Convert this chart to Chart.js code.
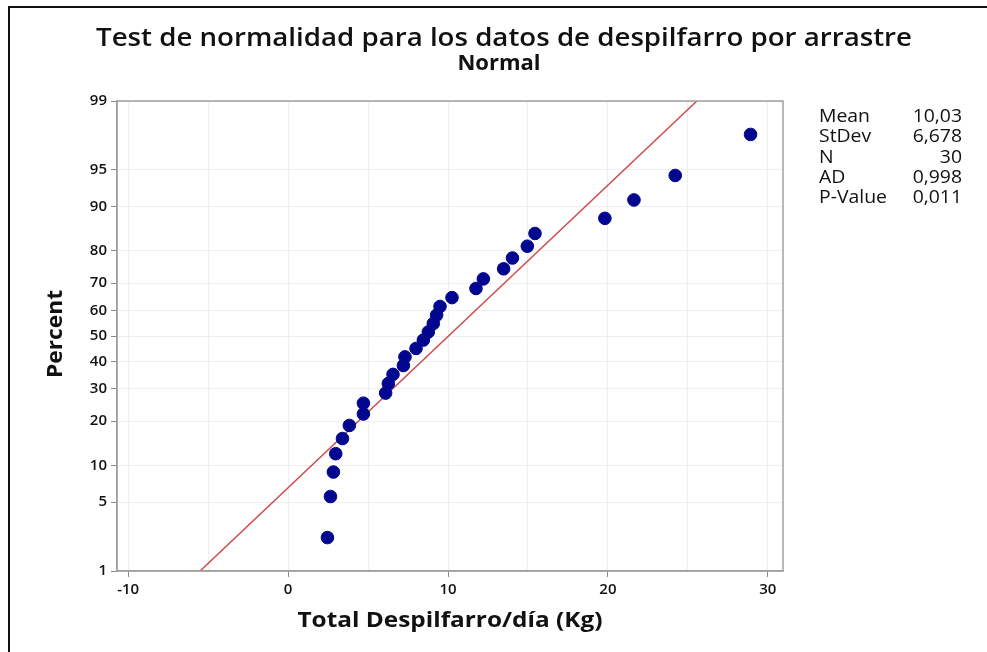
<!DOCTYPE html>
<html lang="es">
<head>
    <meta charset="UTF-8">
    <title>Test de normalidad</title>
    <script src="https://cdn.jsdelivr.net/npm/chart.js"></script>
    <style>
        html, body { margin: 0; padding: 0; background: #fff; }
        .frame { position: absolute; left: 8px; top: 6px; right: 0; bottom: 0;
                 border-top: 2px solid #111; border-left: 2px solid #111; }
        #wrap { position: absolute; left: 0; top: 0; width: 987px; height: 652px; }
    </style>
</head>
<body>
<div class="frame"></div>
<div id="wrap"><canvas id="probPlot" width="987" height="652"></canvas></div>
<script>
    // data
    const wasteKg = [2.46, 2.65, 2.83, 2.98, 3.40, 3.83, 4.71, 4.71, 6.10, 6.27,
                     6.56, 7.21, 7.31, 8.00, 8.46, 8.77, 9.08, 9.29, 9.50, 10.25,
                     11.75, 12.21, 13.48, 14.03, 14.96, 15.44, 19.81, 21.63, 24.21, 28.92];
    const percentRank = [2.3, 5.6, 8.9, 12.2, 15.5, 18.8, 22.0, 25.3, 28.6, 31.9,
                         35.2, 38.5, 41.8, 45.1, 48.4, 51.6, 54.9, 58.2, 61.5, 64.8,
                         68.1, 71.4, 74.7, 78.0, 81.3, 84.5, 87.8, 91.1, 94.4, 97.7];
    const yTickPercents = [1, 5, 10, 20, 30, 40, 50, 60, 70, 80, 90, 95, 99];
    const xTickValues = [-10, -5, 0, 5, 10, 15, 20, 25, 30];
    const statNames = ['Mean', 'StDev', 'N', 'AD', 'P-Value'];
    const statValues = ['10,03', '6,678', '30', '0,998', '0,011'];
    const mean = 10.03, stdev = 6.678;

    // inverse normal cdf (Acklam) - used only to place things on the probability scale
    function probit(p) {
        const a = [-3.969683028665376e+01, 2.209460984245205e+02, -2.759285104469687e+02, 1.383577518672690e+02, -3.066479806614716e+01, 2.506628277459239e+00];
        const b = [-5.447609879822406e+01, 1.615858368580409e+02, -1.556989798598866e+02, 6.680131188771972e+01, -1.328068155288572e+01];
        const c = [-7.784894002430293e-03, -3.223964580411365e-01, -2.400758277161838e+00, -2.549732539343734e+00, 4.374664141464968e+00, 2.938163982698783e+00];
        const d = [7.784695709041462e-03, 3.224671290700398e-01, 2.445134137142996e+00, 3.754408661907416e+00];
        const pl = 0.02425;
        let q, r;
        if (p < pl) {
            q = Math.sqrt(-2 * Math.log(p));
            return (((((c[0]*q+c[1])*q+c[2])*q+c[3])*q+c[4])*q+c[5]) / ((((d[0]*q+d[1])*q+d[2])*q+d[3])*q+1);
        } else if (p <= 1 - pl) {
            q = p - 0.5; r = q * q;
            return (((((a[0]*r+a[1])*r+a[2])*r+a[3])*r+a[4])*r+a[5])*q / (((((b[0]*r+b[1])*r+b[2])*r+b[3])*r+b[4])*r+1);
        }
        q = Math.sqrt(-2 * Math.log(1 - p));
        return -(((((c[0]*q+c[1])*q+c[2])*q+c[3])*q+c[4])*q+c[5]) / ((((d[0]*q+d[1])*q+d[2])*q+d[3])*q+1);
    }

    const zLow = probit(yTickPercents[0] / 100);
    const zHigh = probit(yTickPercents[yTickPercents.length - 1] / 100);

    const points = wasteKg.map((x, i) => ({ x: x, y: probit(percentRank[i] / 100) }));
    const fitLine = [
        { x: mean + stdev * zLow, y: zLow },
        { x: mean + stdev * zHigh, y: zHigh }
    ];

    const FONT = "'Open Sans', 'Noto Sans', sans-serif";

    // draw centred text squeezed/stretched to a given width (y = baseline)
    function fitText(ctx, text, cx, by, font, width) {
        ctx.save();
        ctx.font = font;
        ctx.textBaseline = 'alphabetic';
        ctx.textAlign = 'center';
        const k = width ? width / ctx.measureText(text).width : 1;
        ctx.translate(cx, by);
        ctx.scale(k, 1);
        ctx.fillText(text, 0, 0);
        ctx.restore();
    }

    // titles, stats box and the plot frame
    const decorations = {
        id: 'decorations',
        afterDraw(chart) {
            const ctx = chart.ctx;
            const a = chart.chartArea;
            ctx.save();
            ctx.strokeStyle = '#a0a0a0';
            ctx.lineWidth = 1.5;
            ctx.strokeRect(a.left, a.top, a.right - a.left, a.bottom - a.top);

            ctx.fillStyle = '#111';
            fitText(ctx, 'Test de normalidad para los datos de despilfarro por arrastre', 504, 46, '600 25px ' + FONT, 816);
            fitText(ctx, 'Normal', 499, 70, '700 22px ' + FONT, 0);
            fitText(ctx, 'Total Despilfarro/día (Kg)', 450, 627, '700 21px ' + FONT, 305);

            ctx.save();
            ctx.translate(62, 334);
            ctx.rotate(-Math.PI / 2);
            fitText(ctx, 'Percent', 0, 0, '700 21px ' + FONT, 88);
            ctx.restore();

            // stats: same horizontal stretch for both columns
            ctx.font = '18px ' + FONT;
            ctx.textBaseline = 'middle';
            const k = 51 / ctx.measureText('Mean').width;
            statNames.forEach((name, i) => {
                const y = 117 + i * 20.2;
                ctx.save();
                ctx.translate(819, y);
                ctx.scale(k, 1);
                ctx.textAlign = 'left';
                ctx.fillText(name, 0, 0);
                ctx.restore();
                ctx.save();
                ctx.translate(962, y);
                ctx.scale(k, 1);
                ctx.textAlign = 'right';
                ctx.fillText(statValues[i], 0, 0);
                ctx.restore();
            });
            ctx.restore();
        }
    };

    new Chart(document.getElementById('probPlot'), {
        type: 'scatter',
        data: {
            datasets: [
                {
                    label: 'Fit',
                    type: 'line',
                    data: fitLine,
                    borderColor: '#cf4b4b',
                    borderWidth: 1.5,
                    pointRadius: 0,
                    fill: false,
                    order: 2
                },
                {
                    label: 'Total Despilfarro',
                    data: points,
                    backgroundColor: '#00068f',
                    borderColor: '#00068f',
                    pointRadius: 6.3,
                    pointHoverRadius: 6.3,
                    order: 1
                }
            ]
        },
        options: {
            responsive: false,
            animation: false,
            layout: { padding: { top: 101, right: 204, left: 0, bottom: 0 } },
            plugins: { legend: { display: false }, tooltip: { enabled: false } },
            scales: {
                x: {
                    type: 'linear',
                    min: -10.7,
                    max: 30.95,
                    afterBuildTicks: s => { s.ticks = xTickValues.map(v => ({ value: v })); },
                    afterFit: s => { s.height = 81; },
                    ticks: {
                        callback: v => (v % 10 === 0 ? String(v) : ''),
                        color: '#111',
                        padding: 4,
                        maxRotation: 0,
                        autoSkip: false,
                        font: { family: FONT, size: 15, weight: '600' }
                    },
                    grid: {
                        color: '#eeeeee',
                        tickLength: 6,
                        tickColor: c => (c.tick && c.tick.value % 10 === 0 ? '#888' : 'rgba(0,0,0,0)')
                    },
                    border: { color: '#a0a0a0', width: 1.5 }
                },
                y: {
                    type: 'linear',
                    min: zLow,
                    max: zHigh,
                    afterBuildTicks: s => { s.ticks = yTickPercents.map(p => ({ value: probit(p / 100) })); },
                    afterFit: s => { s.width = 117; },
                    ticks: {
                        callback: (v, i) => String(yTickPercents[i]),
                        color: '#111',
                        padding: 4,
                        autoSkip: false,
                        font: { family: FONT, size: 15, weight: '600' }
                    },
                    grid: { color: '#eeeeee', tickLength: 6, tickColor: '#888' },
                    border: { color: '#a0a0a0', width: 1.5 }
                }
            }
        },
        plugins: [decorations]
    });
</script>
</body>
</html>
